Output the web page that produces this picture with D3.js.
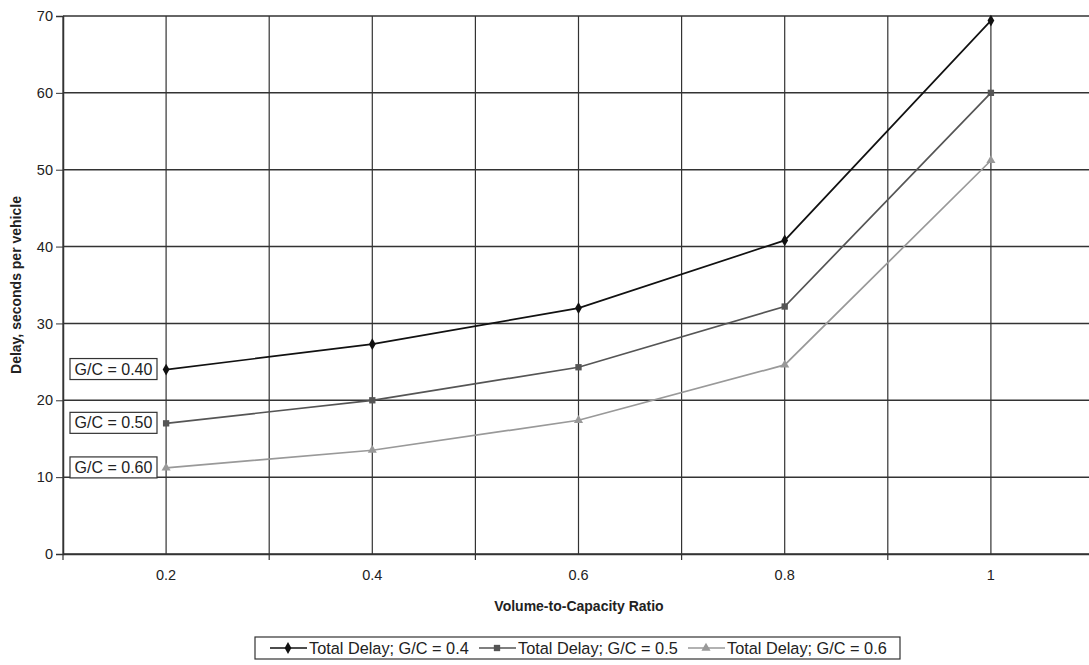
<!DOCTYPE html>
<html>
<head>
<meta charset="utf-8">
<script src="https://cdn.jsdelivr.net/npm/d3@7"></script>
<style>
body { margin: 0; background: #fff; }
svg { display: block; font-family: "Liberation Sans", Arial, sans-serif; }
</style>
</head>
<body>
<div id="chart"></div>
<script>
// data
var ratios = ["0.2", "0.4", "0.6", "0.8", "1"];
var delay40 = [24.0, 27.3, 32.0, 40.8, 69.4];
var delay50 = [17.0, 20.0, 24.3, 32.2, 60.0];
var delay60 = [11.2, 13.5, 17.4, 24.6, 51.2];
var seriesNames = ["Total Delay; G/C = 0.4", "Total Delay; G/C = 0.5", "Total Delay; G/C = 0.6"];
var boxLabels = ["G/C = 0.40", "G/C = 0.50", "G/C = 0.60"];
var yTicks = [0, 10, 20, 30, 40, 50, 60, 70];

var W = 1089, H = 665;
var margin = {top: 16, right: -5, bottom: 111, left: 63};
var width = W - margin.left - margin.right;
var height = H - margin.top - margin.bottom;

var svg = d3.select("#chart").append("svg")
    .attr("width", W).attr("height", H);

var g = svg.append("g").attr("transform", "translate(" + margin.left + "," + margin.top + ")");

var x = d3.scaleBand().domain(ratios).range([0, width]);
var y = d3.scaleLinear().domain([0, 70]).range([height, 0]);

var series = [
    {name: seriesNames[0], values: delay40, color: "#111", symbol: d3.symbolDiamond, size: 40},
    {name: seriesNames[1], values: delay50, color: "#555", symbol: d3.symbolSquare, size: 40},
    {name: seriesNames[2], values: delay60, color: "#999", symbol: d3.symbolTriangle, size: 36}
];

var gridColor = "#333";

// horizontal grid
g.append("g").selectAll("line").data(yTicks).enter().append("line")
    .attr("x1", 0).attr("x2", width)
    .attr("y1", function(d) { return y(d); }).attr("y2", function(d) { return y(d); })
    .attr("stroke", gridColor).attr("stroke-width", 1.5);

// vertical grid: category centres and boundaries
var bounds = ratios.map(function(d) { return x(d); }).concat([width]);
g.append("g").selectAll("line").data(ratios).enter().append("line")
    .attr("x1", function(d) { return x(d) + x.bandwidth() / 2; })
    .attr("x2", function(d) { return x(d) + x.bandwidth() / 2; })
    .attr("y1", 0).attr("y2", height)
    .attr("stroke", gridColor).attr("stroke-width", 1.2);
g.append("g").selectAll("line").data(bounds).enter().append("line")
    .attr("x1", function(d) { return d; }).attr("x2", function(d) { return d; })
    .attr("y1", 0).attr("y2", height + 6)
    .attr("stroke", gridColor).attr("stroke-width", 1.2);

// y axis
var yAxis = g.append("g")
    .call(d3.axisLeft(y).tickValues(yTicks).tickSize(7).tickPadding(3));
yAxis.select(".domain").attr("stroke", gridColor).attr("stroke-width", 1.5);
yAxis.selectAll(".tick line").attr("stroke", gridColor);
yAxis.selectAll("text").attr("font-size", 14.5).attr("fill", "#222");

// x axis labels
var xAxis = g.append("g").attr("transform", "translate(0," + height + ")")
    .call(d3.axisBottom(x).tickSize(0).tickPadding(16));
xAxis.select(".domain").attr("stroke", gridColor).attr("stroke-width", 1.5);
xAxis.selectAll("text").attr("font-size", 14.5).attr("fill", "#222");

// axis titles
svg.append("text")
    .attr("x", margin.left + 516).attr("y", 611)
    .attr("text-anchor", "middle").attr("font-size", 14).attr("font-weight", "bold").attr("fill", "#222")
    .text("Volume-to-Capacity Ratio");
svg.append("text")
    .attr("transform", "translate(21,285) rotate(-90)")
    .attr("text-anchor", "middle").attr("font-size", 14).attr("font-weight", "bold").attr("fill", "#222")
    .text("Delay, seconds per vehicle");

// lines and markers
var line = d3.line()
    .x(function(d, i) { return x(ratios[i]) + x.bandwidth() / 2; })
    .y(function(d) { return y(d); });

series.forEach(function(s) {
    g.append("path").datum(s.values)
        .attr("d", line).attr("fill", "none")
        .attr("stroke", s.color).attr("stroke-width", 1.7);
    g.append("g").selectAll("path").data(s.values).enter().append("path")
        .attr("transform", function(d, i) {
            return "translate(" + (x(ratios[i]) + x.bandwidth() / 2) + "," + y(d) + ")";
        })
        .attr("d", d3.symbol().type(s.symbol).size(s.size))
        .attr("fill", s.color);
});

// G/C boxes near the first points
series.forEach(function(s, i) {
    var cy = y(s.values[0]);
    var bx = g.append("g").attr("transform", "translate(7," + (cy - 11) + ")");
    bx.append("rect").attr("width", 87).attr("height", 21)
        .attr("fill", "#fff").attr("stroke", "#333").attr("stroke-width", 1.2);
    bx.append("text").attr("x", 43.5).attr("y", 16)
        .attr("text-anchor", "middle").attr("font-size", 16).attr("fill", "#222")
        .text(boxLabels[i]);
});

// legend
var leg = svg.append("g").attr("transform", "translate(255,637)");
leg.append("rect").attr("width", 645).attr("height", 22)
    .attr("fill", "#fff").attr("stroke", "#333").attr("stroke-width", 1.2);
var itemX = [15, 224, 433];
series.forEach(function(s, i) {
    var it = leg.append("g").attr("transform", "translate(" + itemX[i] + ",11)");
    it.append("line").attr("x1", 0).attr("x2", 37)
        .attr("stroke", s.color).attr("stroke-width", 1.6);
    it.append("path").attr("transform", "translate(18,0)")
        .attr("d", d3.symbol().type(s.symbol).size(s.size)).attr("fill", s.color);
    it.append("text").attr("x", 39).attr("y", 5.5)
        .attr("font-size", 16.3).attr("fill", "#222").text(s.name);
});
</script>
</body>
</html>
